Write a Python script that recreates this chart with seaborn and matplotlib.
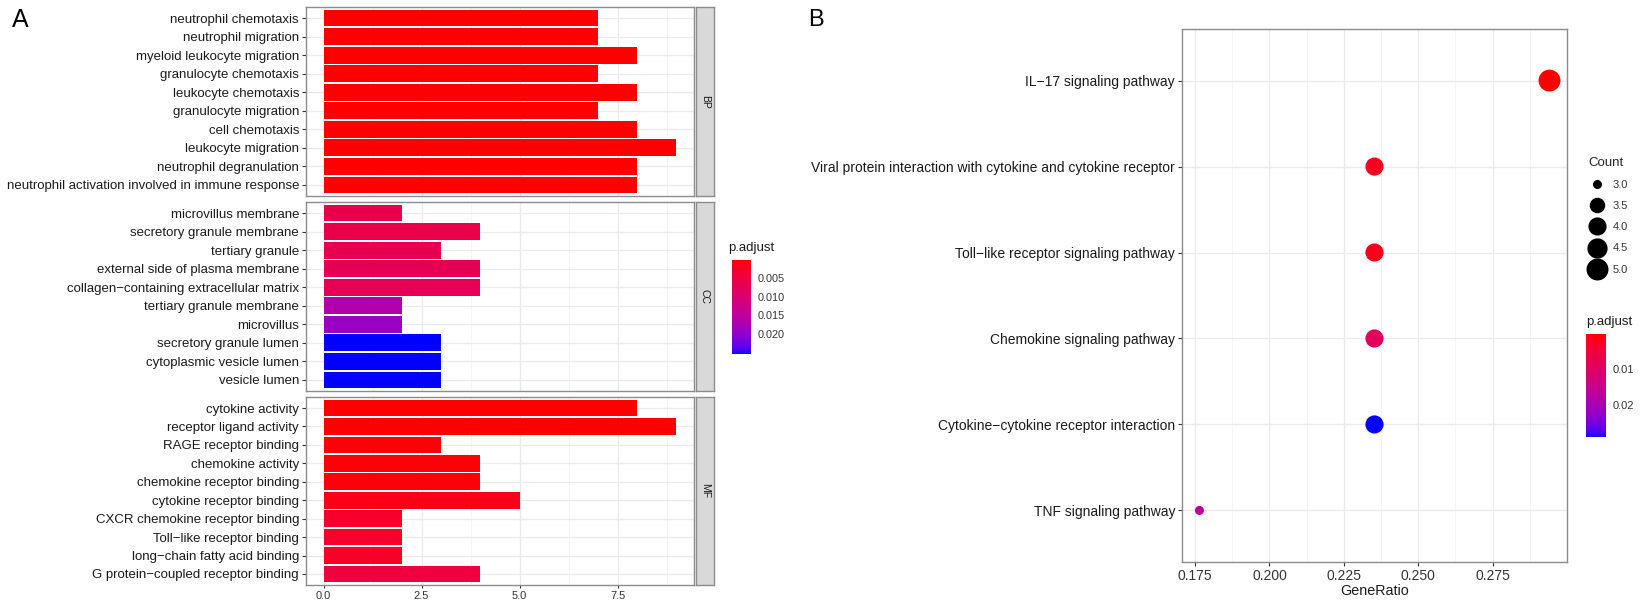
import numpy as np
import pandas as pd
import matplotlib
matplotlib.use("Agg")
import matplotlib.pyplot as plt
from matplotlib.colors import ListedColormap, Normalize
from matplotlib.lines import Line2D
import seaborn as sns

# ---------------- data ----------------
bp_terms = ["neutrophil chemotaxis", "neutrophil migration", "myeloid leukocyte migration",
            "granulocyte chemotaxis", "leukocyte chemotaxis", "granulocyte migration",
            "cell chemotaxis", "leukocyte migration", "neutrophil degranulation",
            "neutrophil activation involved in immune response"]
bp_counts = [7, 7, 8, 7, 8, 7, 8, 9, 8, 8]
bp_padj = [2e-6, 2e-6, 3e-6, 2e-6, 4e-6, 3e-6, 5e-6, 6e-6, 2e-5, 2e-5]

cc_terms = ["microvillus membrane", "secretory granule membrane", "tertiary granule",
            "external side of plasma membrane", "collagen\u2212containing extracellular matrix",
            "tertiary granule membrane", "microvillus", "secretory granule lumen",
            "cytoplasmic vesicle lumen", "vesicle lumen"]
cc_counts = [2, 4, 3, 4, 4, 2, 2, 3, 3, 3]
cc_padj = [0.0060, 0.0058, 0.0066, 0.0068, 0.0070, 0.0165, 0.0192, 0.0255, 0.0255, 0.0255]

mf_terms = ["cytokine activity", "receptor ligand activity", "RAGE receptor binding",
            "chemokine activity", "chemokine receptor binding", "cytokine receptor binding",
            "CXCR chemokine receptor binding", "Toll\u2212like receptor binding",
            "long\u2212chain fatty acid binding", "G protein\u2212coupled receptor binding"]
mf_counts = [8, 9, 3, 4, 4, 5, 2, 2, 2, 4]
mf_padj = [1e-5, 1e-5, 3e-4, 4e-4, 5e-4, 1.2e-3, 2.5e-3, 2.5e-3, 2.5e-3, 4.5e-3]

ont_labels = ["BP", "CC", "MF"]
bar_ticks = [0.0, 2.5, 5.0, 7.5]
bar_tick_labels = ["0.0", "2.5", "5.0", "7.5"]
left_cbar_ticks = [0.005, 0.010, 0.015, 0.020]
left_cbar_labels = ["0.005", "0.010", "0.015", "0.020"]

kegg_terms = ["IL\u221217 signaling pathway",
              "Viral protein interaction with cytokine and cytokine receptor",
              "Toll\u2212like receptor signaling pathway",
              "Chemokine signaling pathway",
              "Cytokine\u2212cytokine receptor interaction",
              "TNF signaling pathway"]
kegg_ratio = [5 / 17, 4 / 17, 4 / 17, 4 / 17, 4 / 17, 3 / 17]
kegg_count = [5, 4, 4, 4, 4, 3]
kegg_padj = [0.0001, 0.0022, 0.0015, 0.0088, 0.0291, 0.0170]
ratio_ticks = [0.175, 0.200, 0.225, 0.250, 0.275]
ratio_tick_labels = ["0.175", "0.200", "0.225", "0.250", "0.275"]
count_legend_values = [3.0, 3.5, 4.0, 4.5, 5.0]
right_cbar_ticks = [0.01, 0.02]
right_cbar_labels = ["0.01", "0.02"]

# ---------------- colour scale (red -> blue interpolated in Lab, like ggplot) ----------------
_M = np.array([[0.4124, 0.3576, 0.1805], [0.2126, 0.7152, 0.0722], [0.0193, 0.1192, 0.9505]])
_WHITE = np.array([0.95047, 1.0, 1.08883])


def _to_lin(c):
    c = np.asarray(c, float)
    return np.where(c <= 0.04045, c / 12.92, ((c + 0.055) / 1.055) ** 2.4)


def _from_lin(c):
    c = np.clip(c, 0, None)
    return np.where(c <= 0.0031308, 12.92 * c, 1.055 * np.power(c, 1 / 2.4) - 0.055)


def rgb2lab(rgb):
    xyz = _M @ _to_lin(rgb) / _WHITE
    f = np.where(xyz > 0.008856, np.cbrt(xyz), 7.787 * xyz + 16 / 116)
    return np.array([116 * f[1] - 16, 500 * (f[0] - f[1]), 200 * (f[1] - f[2])])


def lab2rgb(lab):
    L, a, b = lab
    fy = (L + 16) / 116
    f = np.array([fy + a / 500, fy, fy - b / 200])
    xyz = np.where(f > 0.206893, f ** 3, (f - 16 / 116) / 7.787) * _WHITE
    return np.clip(_from_lin(np.linalg.inv(_M) @ xyz), 0, 1)


lab_r, lab_b = rgb2lab([1, 0, 0]), rgb2lab([0, 0, 1])
cmap = ListedColormap([lab2rgb((1 - t) * lab_r + t * lab_b) for t in np.linspace(0, 1, 256)])

# ggplot-like area size scale: diameter = d0 + (d1 - d0) * sqrt(rescaled value)
D0, D1 = 6.5, 15.8  # diameters in points
CMIN, CMAX = 3.0, 5.0


def marker_area(v):
    t = (v - CMIN) / (CMAX - CMIN)
    return (D0 + (D1 - D0) * np.sqrt(t)) ** 2


# ---------------- figure ----------------
W, H = 1643, 602
sns.set_theme(style="white")
plt.rcParams["font.family"] = ["Liberation Sans", "DejaVu Sans"]
fig = plt.figure(figsize=(W / 100, H / 100), dpi=100)


def rect(x0, y0, x1, y1):
    return [x0 / W, 1 - y1 / H, (x1 - x0) / W, (y1 - y0) / H]


BORDER = "#8C8C8C"
GRID = "#EBEBEB"
TXT = "#1A1A1A"

all_left = bp_padj + cc_padj + mf_padj
lnorm = Normalize(min(all_left), max(all_left))

panels = [(bp_terms, bp_counts, bp_padj, 7, 196),
          (cc_terms, cc_counts, cc_padj, 202, 391),
          (mf_terms, mf_counts, mf_padj, 397, 585)]
for i, (terms, counts, padj, y0, y1) in enumerate(panels):
    ax = fig.add_axes(rect(306, y0, 694, y1))
    df = pd.DataFrame({"term": terms, "count": counts, "p": padj})
    pal = {t: cmap(lnorm(p)) for t, p in zip(terms, padj)}
    sns.barplot(data=df, x="count", y="term", hue="term", palette=pal, legend=False,
                order=terms, orient="h", width=0.9, saturation=1, linewidth=0, ax=ax)
    ax.set_xlim(-0.45, 9.45)
    ax.set_ylim(len(terms) - 0.4, -0.6)
    ax.set_xticks(bar_ticks)
    ax.set_xticks([1.25, 3.75, 6.25, 8.75], minor=True)
    ax.set_axisbelow(True)
    ax.grid(True, which="major", color=GRID, lw=1.0)
    ax.grid(True, which="minor", axis="x", color="#F4F4F4", lw=0.6)
    ax.set_xlabel("")
    ax.set_ylabel("")
    for s in ax.spines.values():
        s.set_color(BORDER)
        s.set_linewidth(1.0)
    ax.tick_params(axis="y", length=3, width=0.8, color="#333333", labelsize=9.5,
                   labelcolor=TXT, pad=2, left=True)
    ax.tick_params(axis="x", which="minor", length=0)
    if i < 2:
        ax.tick_params(axis="x", which="major", length=0, labelbottom=False)
    else:
        ax.set_xticklabels(bar_tick_labels)
        ax.tick_params(axis="x", which="major", length=2.5, width=0.8, color="#333333",
                       labelsize=8, labelcolor="#333333", pad=1.5, bottom=True)
    # facet strip
    sax = fig.add_axes(rect(696, y0, 714, y1))
    sax.set_facecolor("#D9D9D9")
    sax.set_xticks([])
    sax.set_yticks([])
    for s in sax.spines.values():
        s.set_color(BORDER)
        s.set_linewidth(1.0)
    sax.text(0.5, 0.5, ont_labels[i], rotation=-90, ha="center", va="center",
             fontsize=7.5, color=TXT, transform=sax.transAxes)

# left colour bar
cax1 = fig.add_axes(rect(732, 260, 751, 354))
sm1 = plt.cm.ScalarMappable(norm=lnorm, cmap=cmap)
cb1 = fig.colorbar(sm1, cax=cax1)
cb1.outline.set_visible(False)
cax1.invert_yaxis()
cb1.set_ticks(left_cbar_ticks)
cb1.set_ticklabels(left_cbar_labels)
cax1.tick_params(length=3, width=0.6, color="white", direction="in", labelsize=7.8,
                 labelcolor="#333333", pad=5)
fig.text(728 / W, 1 - 248 / H, "p.adjust", fontsize=9.5, color=TXT, ha="left", va="center")

# ---------------- right dot plot ----------------
ax2 = fig.add_axes(rect(1182, 29, 1567, 562))
rnorm = Normalize(min(kegg_padj), max(kegg_padj))
kdf = pd.DataFrame({"term": kegg_terms, "GeneRatio": kegg_ratio, "Count": kegg_count,
                    "p.adjust": kegg_padj})
size_map = {c: marker_area(c) for c in sorted(set(kegg_count))}
sns.scatterplot(data=kdf, x="GeneRatio", y="term", hue="p.adjust", palette=cmap,
                hue_norm=rnorm, size="Count", sizes=size_map,
                linewidth=0, legend=False, ax=ax2, zorder=3)
ax2.set_ylim(len(kegg_terms) - 0.4, -0.6)
ax2.set_xlim(0.1706, 0.3000)
ax2.set_xticks(ratio_ticks)
ax2.set_xticklabels(ratio_tick_labels)
ax2.set_xticks([0.1875, 0.2125, 0.2375, 0.2625, 0.2875], minor=True)
ax2.set_axisbelow(True)
ax2.grid(True, which="major", color=GRID, lw=1.0)
ax2.grid(True, which="minor", axis="x", color="#F4F4F4", lw=0.6)
for s in ax2.spines.values():
    s.set_color(BORDER)
    s.set_linewidth(1.0)
ax2.tick_params(axis="y", length=3, width=0.8, color="#333333", labelsize=10,
                labelcolor=TXT, pad=2, left=True)
ax2.tick_params(axis="x", which="major", length=3, width=0.8, color="#333333", labelsize=10,
                labelcolor="#333333", pad=2, bottom=True)
ax2.tick_params(axis="x", which="minor", length=0)
ax2.set_ylabel("")
ax2.set_xlabel("GeneRatio", fontsize=10.3, color=TXT, labelpad=1)

# Count legend
handles = [Line2D([], [], marker="o", linestyle="", color="black", markeredgewidth=0,
                  markersize=np.sqrt(marker_area(v)))
           for v in count_legend_values]
leg = fig.legend(handles, [f"{v:.1f}" for v in count_legend_values], title="Count",
                 loc="upper left", bbox_to_anchor=(1578 / W, 1 - 147 / H), frameon=False,
                 fontsize=8, title_fontsize=9.5, labelspacing=1.0, handletextpad=0.6,
                 alignment="left", handlelength=1.6)
for t in leg.get_texts():
    t.set_color("#333333")

# right colour bar
cax2 = fig.add_axes(rect(1586, 334, 1606, 437))
sm2 = plt.cm.ScalarMappable(norm=rnorm, cmap=cmap)
cb2 = fig.colorbar(sm2, cax=cax2)
cb2.outline.set_visible(False)
cax2.invert_yaxis()
cb2.set_ticks(right_cbar_ticks)
cb2.set_ticklabels(right_cbar_labels)
cax2.tick_params(length=3, width=0.6, color="white", direction="in", labelsize=8,
                 labelcolor="#333333", pad=5)
fig.text(1586 / W, 1 - 322 / H, "p.adjust", fontsize=9.5, color=TXT, ha="left", va="center")

# panel tags
fig.text(12 / W, 1 - 20 / H, "A", fontsize=18, color="black", ha="left", va="center")
fig.text(808 / W, 1 - 20 / H, "B", fontsize=17, color="black", ha="left", va="center")

fig.savefig("out.png", dpi=100)
